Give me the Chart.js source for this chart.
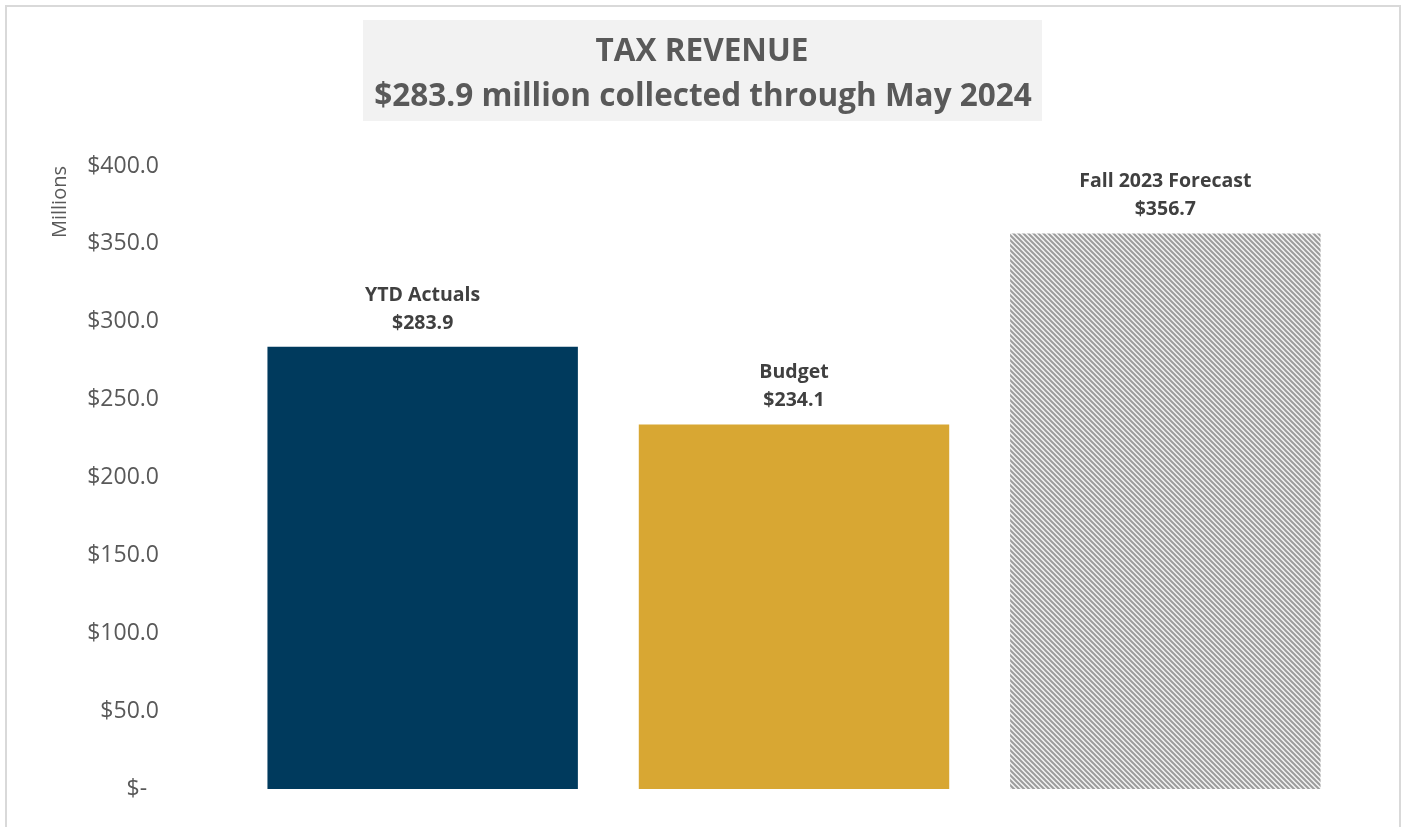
<!DOCTYPE html>
<html>
<head>
<meta charset="utf-8">
<script src="https://cdn.jsdelivr.net/npm/chart.js@4.4.1/dist/chart.umd.min.js"></script>
<style>
  html, body { margin: 0; padding: 0; background: #fff; }
  #wrap { position: relative; width: 1406px; height: 827px; overflow: hidden; }
  #frame { position: absolute; left: 5px; top: 5px; width: 1396px; height: 830px; border: 2px solid #d9d9d9; box-sizing: border-box; }
  canvas { position: absolute; left: 0; top: 0; }
</style>
</head>
<body>
<div id="wrap">
  <div id="frame"></div>
  <canvas id="myChart" width="1406" height="827"></canvas>
</div>
<script>
const categories = ['YTD Actuals', 'Budget', 'Fall 2023 Forecast'];
const revenue = [283.9, 234.1, 356.7];
const titleLines = ['TAX REVENUE', '$283.9 million collected through May 2024'];
const yTicks = [0, 50, 100, 150, 200, 250, 300, 350, 400];

// diagonal hatch for the forecast bar
function makeHatch() {
  const n = 5;
  const c = document.createElement('canvas');
  c.width = n; c.height = n;
  const g = c.getContext('2d');
  g.fillStyle = '#f4f4f4';
  g.fillRect(0, 0, n, n);
  g.strokeStyle = '#9c9c9c';
  g.lineWidth = 2;
  g.beginPath();
  g.moveTo(-1, -1); g.lineTo(n + 1, n + 1);
  g.moveTo(-n - 1, -1); g.lineTo(1, n + 1);
  g.moveTo(n - 1, -1); g.lineTo(2 * n + 1, n + 1);
  g.stroke();
  return g.createPattern(c, 'repeat');
}

const titleBox = {
  id: 'titleBox',
  beforeDraw(chart) {
    const ctx = chart.ctx;
    ctx.save();
    ctx.fillStyle = '#f2f2f2';
    ctx.fillRect(363, 20, 679, 101);
    ctx.fillStyle = '#595959';
    ctx.font = 'bold 31.5px "Open Sans"';
    ctx.textAlign = 'center';
    ctx.textBaseline = 'alphabetic';
    ctx.fillText(titleLines[0], 702, 61);
    ctx.fillText(titleLines[1], 703, 106);
    ctx.restore();
  }
};

const barLabels = {
  id: 'barLabels',
  afterDatasetsDraw(chart) {
    const ctx = chart.ctx;
    const meta = chart.getDatasetMeta(0);
    ctx.save();
    ctx.fillStyle = '#404040';
    ctx.font = 'bold 19.5px "Open Sans"';
    ctx.textAlign = 'center';
    ctx.textBaseline = 'alphabetic';
    meta.data.forEach((bar, i) => {
      ctx.fillText(categories[i], bar.x, bar.y - 46);
      ctx.fillText('$' + revenue[i].toFixed(1), bar.x, bar.y - 18);
    });
    ctx.restore();
  }
};

const ctx = document.getElementById('myChart').getContext('2d');
const chart = new Chart(ctx, {
  type: 'bar',
  data: {
    labels: categories,
    datasets: [{
      data: revenue,
      backgroundColor: ['#003a5d', '#d8a733', makeHatch()],
      borderWidth: 0,
      categoryPercentage: 1,
      barPercentage: 0.836
    }]
  },
  options: {
    responsive: false,
    animation: false,
    layout: { padding: { left: 48, right: 55, top: 166, bottom: 38 } },
    plugins: {
      legend: { display: false },
      tooltip: { enabled: false }
    },
    scales: {
      x: { display: false },
      y: {
        min: 0,
        max: 400,
        afterFit(scale) {
          scale.width = 189;
          // the big tick padding would otherwise eat the bottom
          scale.paddingTop = 12;
          scale.paddingBottom = 12;
        },
        afterBuildTicks(scale) { scale.ticks = yTicks.map(v => ({ value: v })); },
        grid: { display: false, drawTicks: false },
        border: { display: false },
        title: {
          display: true,
          text: 'Millions',
          align: 'end',
          color: '#595959',
          font: { family: 'Open Sans', size: 20 },
          padding: { top: 0, bottom: 0 }
        },
        ticks: {
          color: '#595959',
          font: { family: 'Open Sans', size: 23 },
          padding: 78,
          callback: v => v === 0 ? '$-  ' : '$' + v.toFixed(1)
        }
      }
    }
  },
  plugins: [titleBox, barLabels]
});
</script>
</body>
</html>
